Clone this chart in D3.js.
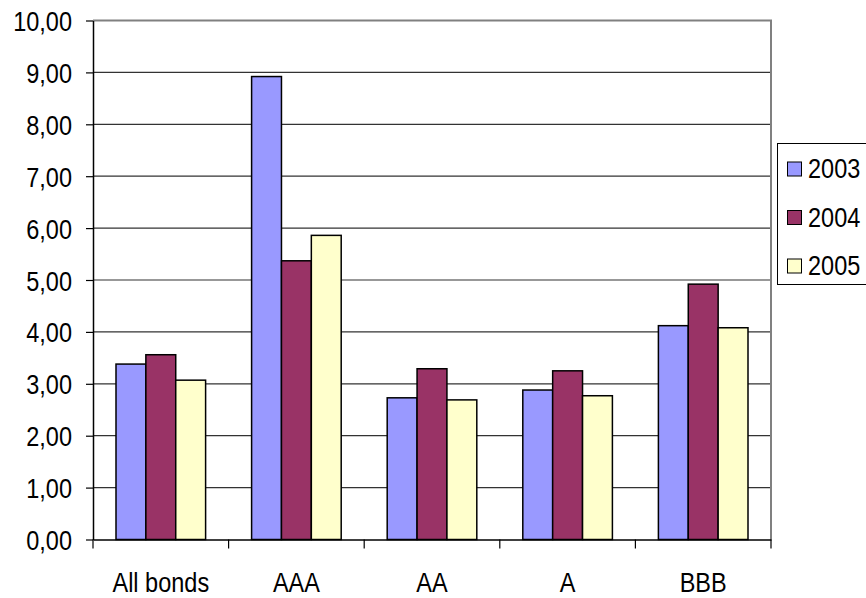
<!DOCTYPE html>
<html>
<head>
<meta charset="utf-8">
<script src="https://cdn.jsdelivr.net/npm/d3@7/dist/d3.min.js"></script>
<style>
  html, body { margin: 0; padding: 0; background: #fff; }
  svg { display: block; }
  text { font-family: "Liberation Sans", Arial, sans-serif; fill: #000; }
</style>
</head>
<body>
<svg id="chart" width="866" height="598"></svg>
<script>
const categories = ["All bonds", "AAA", "AA", "A", "BBB"];
const seriesNames = ["2003", "2004", "2005"];
const values2003 = [3.38, 8.92, 2.73, 2.88, 4.12];
const values2004 = [3.56, 5.37, 3.29, 3.25, 4.92];
const values2005 = [3.07, 5.86, 2.69, 2.77, 4.08];
const yTicks = [0, 1, 2, 3, 4, 5, 6, 7, 8, 9, 10];
const colors = ["#9999FF", "#993366", "#FFFFCC"];

const seriesValues = [values2003, values2004, values2005];
const narrow = 0.84;

const svg = d3.select("#chart");
const plotLeft = 93, plotRight = 771, plotTop = 20.5, plotBottom = 539.5;

const x0 = d3.scaleBand().domain(categories).range([plotLeft, plotRight]).padding(0);
const x1 = d3.scaleBand().domain(seriesNames)
  .range([0, x0.bandwidth()]).paddingInner(0).paddingOuter(0.77);
const y = d3.scaleLinear().domain([0, 10]).range([plotBottom, plotTop]);

const fmt = v => d3.format(".2f")(v).replace(".", ",");

// squeeze text horizontally around its anchor
function squeeze(sel) {
  sel.each(function () {
    const t = d3.select(this);
    const x = +t.attr("x") || 0;
    const yy = +t.attr("y") || 0;
    t.attr("x", 0).attr("y", 0)
      .attr("transform", `translate(${x},${yy}) scale(${narrow},1)`);
  });
}

// gridlines
svg.append("g").selectAll("line")
  .data(yTicks.filter(t => t > 0 && t < 10))
  .join("line")
  .attr("x1", plotLeft).attr("x2", plotRight)
  .attr("y1", d => y(d)).attr("y2", d => y(d))
  .attr("stroke", "#333").attr("stroke-width", 1.2);

// plot border top/right (gray)
svg.append("path")
  .attr("d", `M${plotLeft},${y(10)}H${plotRight}V${plotBottom}`)
  .attr("fill", "none").attr("stroke", "#808080").attr("stroke-width", 2);

// bars
const groups = svg.append("g").selectAll("g")
  .data(categories)
  .join("g")
  .attr("transform", d => `translate(${x0(d)},0)`);

groups.selectAll("rect")
  .data((c, i) => seriesNames.map((s, j) => ({ s, j, v: seriesValues[j][i] })))
  .join("rect")
  .attr("x", d => x1(d.s))
  .attr("width", x1.bandwidth())
  .attr("y", d => y(d.v))
  .attr("height", d => y(0) - y(d.v))
  .attr("fill", d => colors[d.j])
  .attr("stroke", "#000").attr("stroke-width", 1.5);

// y axis
const yAxis = d3.axisLeft(y).tickValues(yTicks).tickFormat(fmt).tickSizeInner(7).tickSizeOuter(0).tickPadding(14);
const gy = svg.append("g").attr("transform", `translate(${plotLeft},0)`).call(yAxis);
gy.attr("font-family", null).attr("font-size", null);
gy.select(".domain").attr("stroke", "#000").attr("stroke-width", 1.5);
gy.selectAll(".tick line").attr("stroke", "#000").attr("stroke-width", 1.2);
gy.selectAll(".tick text").attr("font-size", 28).attr("dy", "0.36em").call(squeeze);

// x axis
const xAxis = d3.axisBottom(x0).tickSize(0).tickPadding(0);
const gx = svg.append("g").attr("transform", `translate(0,${plotBottom})`).call(xAxis);
gx.attr("font-family", null).attr("font-size", null);
gx.select(".domain").attr("stroke", "#000").attr("stroke-width", 1.5);
gx.selectAll(".tick text").attr("font-size", 28).attr("y", 52).attr("dy", 0).call(squeeze);
// category boundary ticks
svg.append("g").selectAll("line")
  .data(categories.map(c => x0(c)).concat([x0(categories[categories.length - 1]) + x0.bandwidth()]))
  .join("line")
  .attr("x1", d => d).attr("x2", d => d)
  .attr("y1", plotBottom).attr("y2", plotBottom + 9)
  .attr("stroke", "#000").attr("stroke-width", 1.2);

// legend
const legend = svg.append("g");
legend.append("rect")
  .attr("x", 777.5).attr("y", 143.5).attr("width", 120).attr("height", 141)
  .attr("fill", "#fff").attr("stroke", "#000").attr("stroke-width", 1);
const rowY = d3.scalePoint().domain(seriesNames).range([178, 275]);
const items = legend.selectAll("g.item").data(seriesNames).join("g").attr("class", "item");
items.append("rect")
  .attr("x", 787.5).attr("y", d => rowY(d) - 16)
  .attr("width", 14).attr("height", 14)
  .attr("fill", (d, i) => colors[i]).attr("stroke", "#000").attr("stroke-width", 1);
items.append("text")
  .attr("x", 808).attr("y", d => rowY(d))
  .attr("font-size", 28)
  .text(d => d)
  .call(squeeze);
</script>
</body>
</html>
